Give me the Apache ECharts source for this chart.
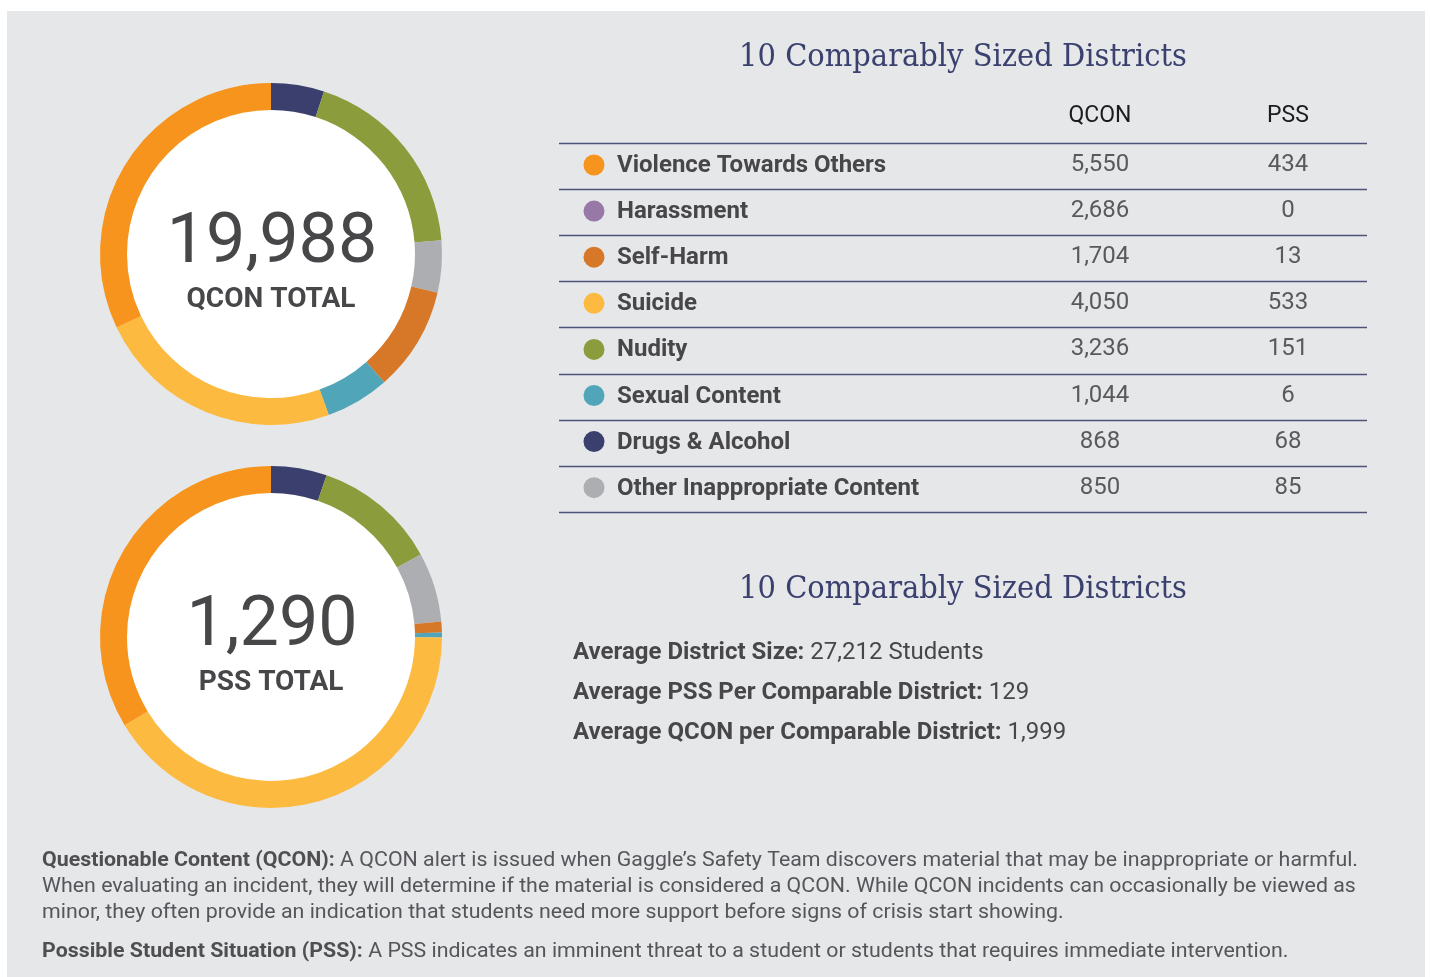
<!DOCTYPE html>
<html>
<head>
<meta charset="utf-8">
<title>10 Comparably Sized Districts</title>
<script src="https://cdn.jsdelivr.net/npm/echarts@6/dist/echarts.min.js"></script>
<style>
  html, body { margin: 0; padding: 0; background: #ffffff; }
  #chart { width: 1430px; height: 977px; }
</style>
</head>
<body>
<div id="chart"></div>
<script>
  // table rows (same order as the reference table)
  const categories = ['Violence Towards Others', 'Harassment', 'Self-Harm', 'Suicide', 'Nudity', 'Sexual Content', 'Drugs & Alcohol', 'Other Inappropriate Content']
  const qconValues = [5550, 2686, 1704, 4050, 3236, 1044, 868, 850]
  const pssValues = [434, 0, 13, 533, 151, 6, 68, 85]
  const columnNames = ['QCON', 'PSS']

  // order of the slices around the rings (harassment is not drawn in the rings)
  const ringOrder = ['Drugs & Alcohol', 'Nudity', 'Other Inappropriate Content', 'Self-Harm', 'Sexual Content', 'Suicide', 'Violence Towards Others']

  const statLabels = ['Average District Size:', 'Average PSS Per Comparable District:', 'Average QCON per Comparable District:']
  const statValues = ['27,212 Students', '129', '1,999']

  const sectionTitle = '10 Comparably Sized Districts'

  const colorMap = {
    'Violence Towards Others': '#f7941d',
    'Harassment': '#9778a7',
    'Self-Harm': '#d77828',
    'Suicide': '#fdba40',
    'Nudity': '#8a9c3c',
    'Sexual Content': '#50a5b8',
    'Drugs & Alcohol': '#3a3f6e',
    'Other Inappropriate Content': '#adaeb2'
  }

  const fmt = v => v.toLocaleString('en-US')
  const sum = arr => arr.reduce((a, b) => a + b, 0)

  const chart = echarts.init(document.getElementById('chart'), null, { renderer: 'canvas' })

  function ringData(values) {
    return ringOrder.map(name => {
      const i = categories.indexOf(name)
      return { name: name, value: values[i], itemStyle: { color: colorMap[name] } }
    })
  }

  function ring(center, values) {
    return {
      type: 'pie',
      center: center,
      radius: [144, 171],
      startAngle: 90,
      clockwise: true,
      silent: true,
      avoidLabelOverlap: false,
      label: { show: false },
      labelLine: { show: false },
      itemStyle: { borderWidth: 0 },
      emphasis: { disabled: true },
      data: ringData(values)
    }
  }

  const textColor = '#47474a'
  const graphics = []

  // grey panel + white discs
  graphics.push({ type: 'rect', z: -10, shape: { x: 7, y: 11, width: 1418, height: 980 }, style: { fill: '#e6e7e9' } })
  graphics.push({ type: 'circle', z: -5, shape: { cx: 271, cy: 254, r: 145 }, style: { fill: '#ffffff' } })
  graphics.push({ type: 'circle', z: -5, shape: { cx: 271, cy: 637, r: 145 }, style: { fill: '#ffffff' } })

  // totals in the middle of the rings
  const totals = [
    { y: 254, value: sum(qconValues), label: 'QCON TOTAL' },
    { y: 637, value: sum(pssValues), label: 'PSS TOTAL' }
  ]
  totals.forEach(t => {
    graphics.push({
      type: 'text', x: 272, y: t.y - 10,
      style: { text: fmt(t.value), font: '400 70px Roboto', fill: textColor, align: 'center', verticalAlign: 'middle' }
    })
    graphics.push({
      type: 'text', x: 271, y: t.y + 46,
      style: { text: t.label, font: 'bold 28px Roboto', fill: textColor, align: 'center', verticalAlign: 'middle' }
    })
  })

  // section titles
  ;[58, 590].forEach(y => {
    graphics.push({
      type: 'text', x: 963, y: y, scaleX: 0.935,
      style: { text: sectionTitle, font: '31px "DejaVu Serif"', fill: '#3b416f', align: 'center', verticalAlign: 'middle' }
    })
  })

  // table
  const tableLeft = 559, tableRight = 1367, tableTop = 143, rowH = 46.1
  const colX = [1100, 1288]
  columnNames.forEach((c, j) => {
    graphics.push({
      type: 'text', x: colX[j], y: 116,
      style: { text: c, font: '23px Roboto', fill: '#1c1c1c', align: 'center', verticalAlign: 'middle' }
    })
  })
  for (let i = 0; i <= categories.length; i++) {
    const y = Math.round(tableTop + i * rowH) + 0.5
    graphics.push({
      type: 'line', shape: { x1: tableLeft, y1: y, x2: tableRight, y2: y },
      style: { stroke: '#4d5378', lineWidth: 1.5 }
    })
  }
  categories.forEach((name, i) => {
    const cy = tableTop + i * rowH + 22
    graphics.push({ type: 'circle', shape: { cx: 594, cy: cy, r: 10.5 }, style: { fill: colorMap[name] } })
    graphics.push({
      type: 'text', x: 617, y: cy + 1,
      style: { text: name, font: 'bold 24px Roboto', fill: textColor, align: 'left', verticalAlign: 'middle' }
    })
    ;[qconValues[i], pssValues[i]].forEach((v, j) => {
      graphics.push({
        type: 'text', x: colX[j], y: cy,
        style: { text: fmt(v), font: '24px Roboto', fill: '#5a5a5d', align: 'center', verticalAlign: 'middle' }
      })
    })
  })

  // averages
  statLabels.forEach((lab, i) => {
    graphics.push({
      type: 'text', x: 573, y: 653 + i * 40,
      style: {
        text: '{b|' + lab + '}{r| ' + statValues[i] + '}',
        verticalAlign: 'middle',
        rich: {
          b: { font: 'bold 24px Roboto', fill: textColor },
          r: { font: '24px Roboto', fill: textColor }
        }
      }
    })
  })

  // footnotes
  const notes = [
    { y: 861, b: 'Questionable Content (QCON):', r: ' A QCON alert is issued when Gaggle’s Safety Team discovers material that may be inappropriate or harmful.' },
    { y: 887, b: '', r: 'When evaluating an incident, they will determine if the material is considered a QCON. While QCON incidents can occasionally be viewed as' },
    { y: 913, b: '', r: 'minor, they often provide an indication that students need more support before signs of crisis start showing.' },
    { y: 952, b: 'Possible Student Situation (PSS):', r: ' A PSS indicates an imminent threat to a student or students that requires immediate intervention.' }
  ]
  notes.forEach(n => {
    graphics.push({
      type: 'text', x: 42, y: n.y, scaleX: 1.017,
      style: {
        text: (n.b ? '{b|' + n.b + '}' : '') + '{r|' + n.r + '}',
        verticalAlign: 'middle',
        rich: {
          b: { font: 'bold 21px Roboto', fill: '#4f4f52' },
          r: { font: '21px Roboto', fill: '#55555a' }
        }
      }
    })
  })

  chart.setOption({
    animation: false,
    backgroundColor: 'transparent',
    series: [
      ring([271, 254], qconValues),
      ring([271, 637], pssValues)
    ],
    graphic: { elements: graphics }
  })
</script>
</body>
</html>
